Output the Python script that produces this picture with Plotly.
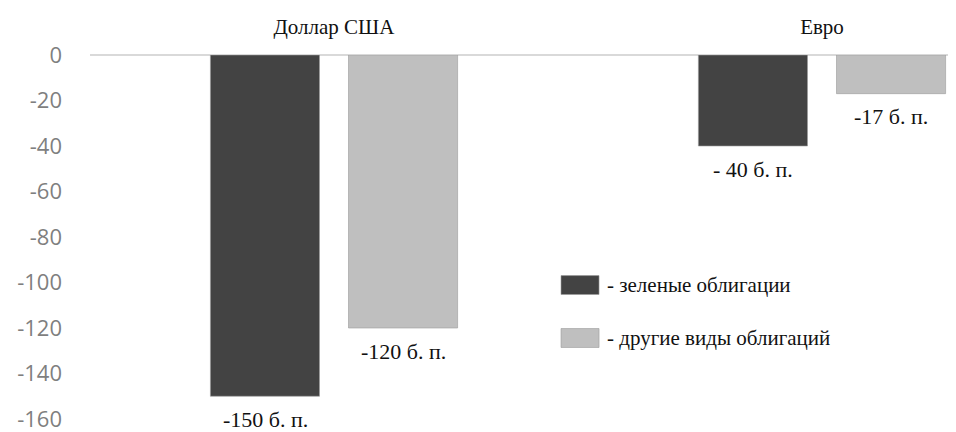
import plotly.graph_objects as go

# Data
currencies = ['Доллар США', 'Евро']
series_names = ['- зеленые облигации', '- другие виды облигаций']
green_bonds = [-150, -40]
other_bonds = [-120, -17]
green_labels = ['-150 б. п.', '- 40 б. п.']
other_labels = ['-120 б. п.', '-17 б. п.']
y_ticks = [0, -20, -40, -60, -80, -100, -120, -140, -160]
y_tick_text = ['0', '-20', '-40', '-60', '-80', '-100', '-120', '-140', '-160']

colors = ['#434343', '#bfbfbf']
serif = 'Liberation Serif, Times New Roman, serif'

fig = go.Figure()

for vals, color, name in zip([green_bonds, other_bonds], colors, series_names):
    fig.add_trace(go.Bar(
        x=currencies,
        y=vals,
        name=name,
        marker=dict(color=color, line=dict(color='#9a9a9a', width=0.6)),
        showlegend=False,
        hoverinfo='x+y'
    ))

# Value labels under the bars
for vals, labels, shift in [(green_bonds, green_labels, -69), (other_bonds, other_labels, 69)]:
    for cat, v, lab in zip(currencies, vals, labels):
        fig.add_annotation(
            x=cat, y=v, xref='x', yref='y',
            text=lab, showarrow=False,
            xshift=shift, yshift=-23, yanchor='middle',
            font=dict(family=serif, size=22, color='#111111')
        )

# Custom legend with wide swatches
legend_rows = [(0.368, colors[0], series_names[0]), (0.2225, colors[1], series_names[1])]
for yc, color, name in legend_rows:
    fig.add_shape(
        type='rect', xref='paper', yref='paper',
        x0=0.5439, x1=0.5878, y0=yc - 0.026, y1=yc + 0.026,
        fillcolor=color, line=dict(color='#9a9a9a', width=0.6)
    )
    fig.add_annotation(
        x=0.5945, y=yc, xref='paper', yref='paper',
        text=name, showarrow=False, xanchor='left', yanchor='middle',
        font=dict(family=serif, size=21, color='#111111')
    )

# page body has an 8px margin, so the figure is a bit smaller than the window
fig.update_layout(
    width=948,
    height=424,
    template='plotly_white',
    plot_bgcolor='white',
    paper_bgcolor='white',
    barmode='group',
    bargap=0.434,
    bargroupgap=0.21,
    margin=dict(l=82, r=0, t=47, b=13),
    xaxis=dict(
        side='top',
        range=[-0.5, 1.2746],
        showgrid=False,
        showline=False,
        ticks='',
        automargin=False,
        ticklabelstandoff=16,
        tickfont=dict(family=serif, size=21, color='#111111')
    ),
    yaxis=dict(
        range=[-160, 0],
        tickvals=y_ticks,
        ticktext=y_tick_text,
        showgrid=False,
        zeroline=True,
        zerolinecolor='#d9d9d9',
        zerolinewidth=1.5,
        automargin=False,
        ticklabeloverflow='allow',
        ticklabelstandoff=27,
        tickfont=dict(family='Open Sans, sans-serif', size=22, color='#7f7f7f')
    )
)

fig.write_html("out.html")
